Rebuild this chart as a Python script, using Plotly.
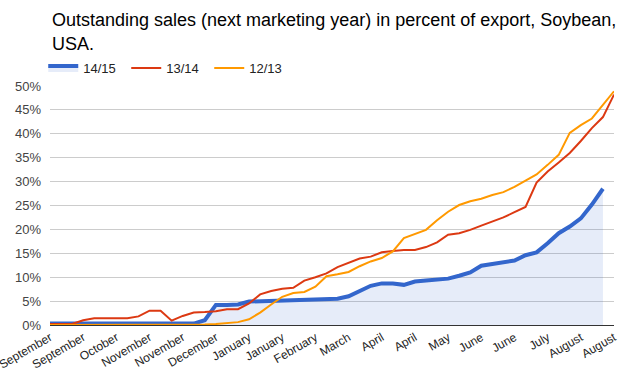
import plotly.graph_objects as go

weeks = list(range(52))
tick_labels = ["September", "September", "October", "November", "November", "December",
               "January", "January", "February", "March", "April", "April", "May",
               "June", "June", "July", "August", "August"]
tick_weeks = weeks[::3]
y_ticks = [0, 5, 10, 15, 20, 25, 30, 35, 40, 45, 50]
y_tick_labels = [f"{v}%" for v in y_ticks]

series_names = ["14/15", "13/14", "12/13"]

s1415 = [0.3, 0.3, 0.3, 0.3, 0.3, 0.3, 0.3, 0.3, 0.3, 0.3, 0.3, 0.3, 0.3, 0.3,
         1.0, 4.2, 4.2, 4.3, 4.9, 5.0, 5.0, 5.0, 5.1, 5.3, 5.4, 5.4, 5.5,
         6.0, 7.2, 8.2, 8.7, 8.7, 8.4, 9.1, 9.3, 9.4, 9.7, 10.3, 11.0, 12.4,
         12.8, 13.1, 13.5, 14.6, 15.2, 17.1, 19.2, 20.6, 22.3, 25.2, 28.5, None]

s1314 = [0.2, 0.2, 0.2, 1.0, 1.4, 1.4, 1.4, 1.4, 1.8, 3.0, 3.0, 0.9, 1.9, 2.6,
         2.7, 2.9, 3.3, 3.3, 4.5, 6.4, 7.1, 7.6, 7.8, 9.3, 10.0, 10.8, 12.1,
         13.0, 13.9, 14.3, 15.2, 15.5, 15.7, 15.7, 16.3, 17.3, 18.9, 19.2, 19.9,
         20.8, 21.6, 22.5, 23.6, 24.7, 29.8, 32.1, 34.0, 36.0, 38.5, 41.2, 43.5, 48.2]

s1213 = [0.0, 0.0, 0.0, 0.0, 0.0, 0.0, 0.0, 0.0, 0.0, 0.0, 0.0, 0.0, 0.0, 0.05,
         0.1, 0.2, 0.4, 0.6, 1.2, 2.6, 4.3, 5.9, 6.7, 6.9, 8.0, 10.2, 10.6,
         11.1, 12.3, 13.3, 14.0, 15.4, 18.2, 19.1, 19.9, 21.9, 23.7, 25.1, 25.9,
         26.4, 27.2, 27.8, 28.9, 30.2, 31.5, 33.5, 35.6, 40.2, 41.8, 43.2, 46.0, 48.9]

title_lines = ["Outstanding sales (next marketing year) in percent of export, Soybean,", "USA."]

colors = ["#3366CC", "#DC3912", "#FF9900"]
FONT = "Arial, Liberation Sans, sans-serif"

W, H = 632, 391
M_L, M_R, M_T, M_B = 50, 18, 86, 66
plot_h = H - M_T - M_B


def paper_y(px_from_top):
    return (H - M_B - px_from_top) / plot_h


fig = go.Figure()
fig.add_trace(go.Scatter(x=weeks, y=s1415, name=series_names[0], mode="lines",
                         line=dict(color=colors[0], width=4),
                         fill="tozeroy", fillcolor="rgba(51,102,204,0.12)"))
fig.add_trace(go.Scatter(x=weeks, y=s1314, name=series_names[1], mode="lines",
                         line=dict(color=colors[1], width=2)))
fig.add_trace(go.Scatter(x=weeks, y=s1213, name=series_names[2], mode="lines",
                         line=dict(color=colors[2], width=2)))

for text, ypx in zip(title_lines, [20, 44]):
    fig.add_annotation(text=text, xref="paper", yref="paper", x=0, y=paper_y(ypx),
                       xanchor="left", yanchor="middle", showarrow=False,
                       font=dict(family=FONT, size=18, color="#000000"))

fig.update_layout(
    width=W, height=H,
    margin=dict(l=M_L, r=M_R, t=M_T, b=M_B, autoexpand=False),
    paper_bgcolor="white", plot_bgcolor="white",
    font=dict(family=FONT, size=12, color="#222222"),
    showlegend=True,
    legend=dict(orientation="h", x=-0.012, xanchor="left", y=paper_y(68), yanchor="middle",
                font=dict(family=FONT, size=13, color="#222222"),
                entrywidth=38, entrywidthmode="pixels",
                bgcolor="rgba(0,0,0,0)", traceorder="normal"),
    xaxis=dict(range=[0, 51], tickmode="array", tickvals=tick_weeks, ticktext=tick_labels,
               tickangle=-30, showgrid=False, zeroline=False, automargin=False,
               showline=True, linecolor="#333333", linewidth=1,
               ticks="", ticklabeloverflow="allow",
               tickfont=dict(family=FONT, size=12, color="#222222")),
    yaxis=dict(range=[0, 50], tickmode="array", tickvals=y_ticks, ticktext=y_tick_labels,
               showgrid=True, gridcolor="#CCCCCC", gridwidth=1, automargin=False,
               zeroline=False, showline=False, ticks="", ticklabelstandoff=8,
               tickfont=dict(family=FONT, size=13, color="#444444")),
)

fig.write_html("out.html", config={"displayModeBar": False},
               post_script="document.body.style.margin='0';")
